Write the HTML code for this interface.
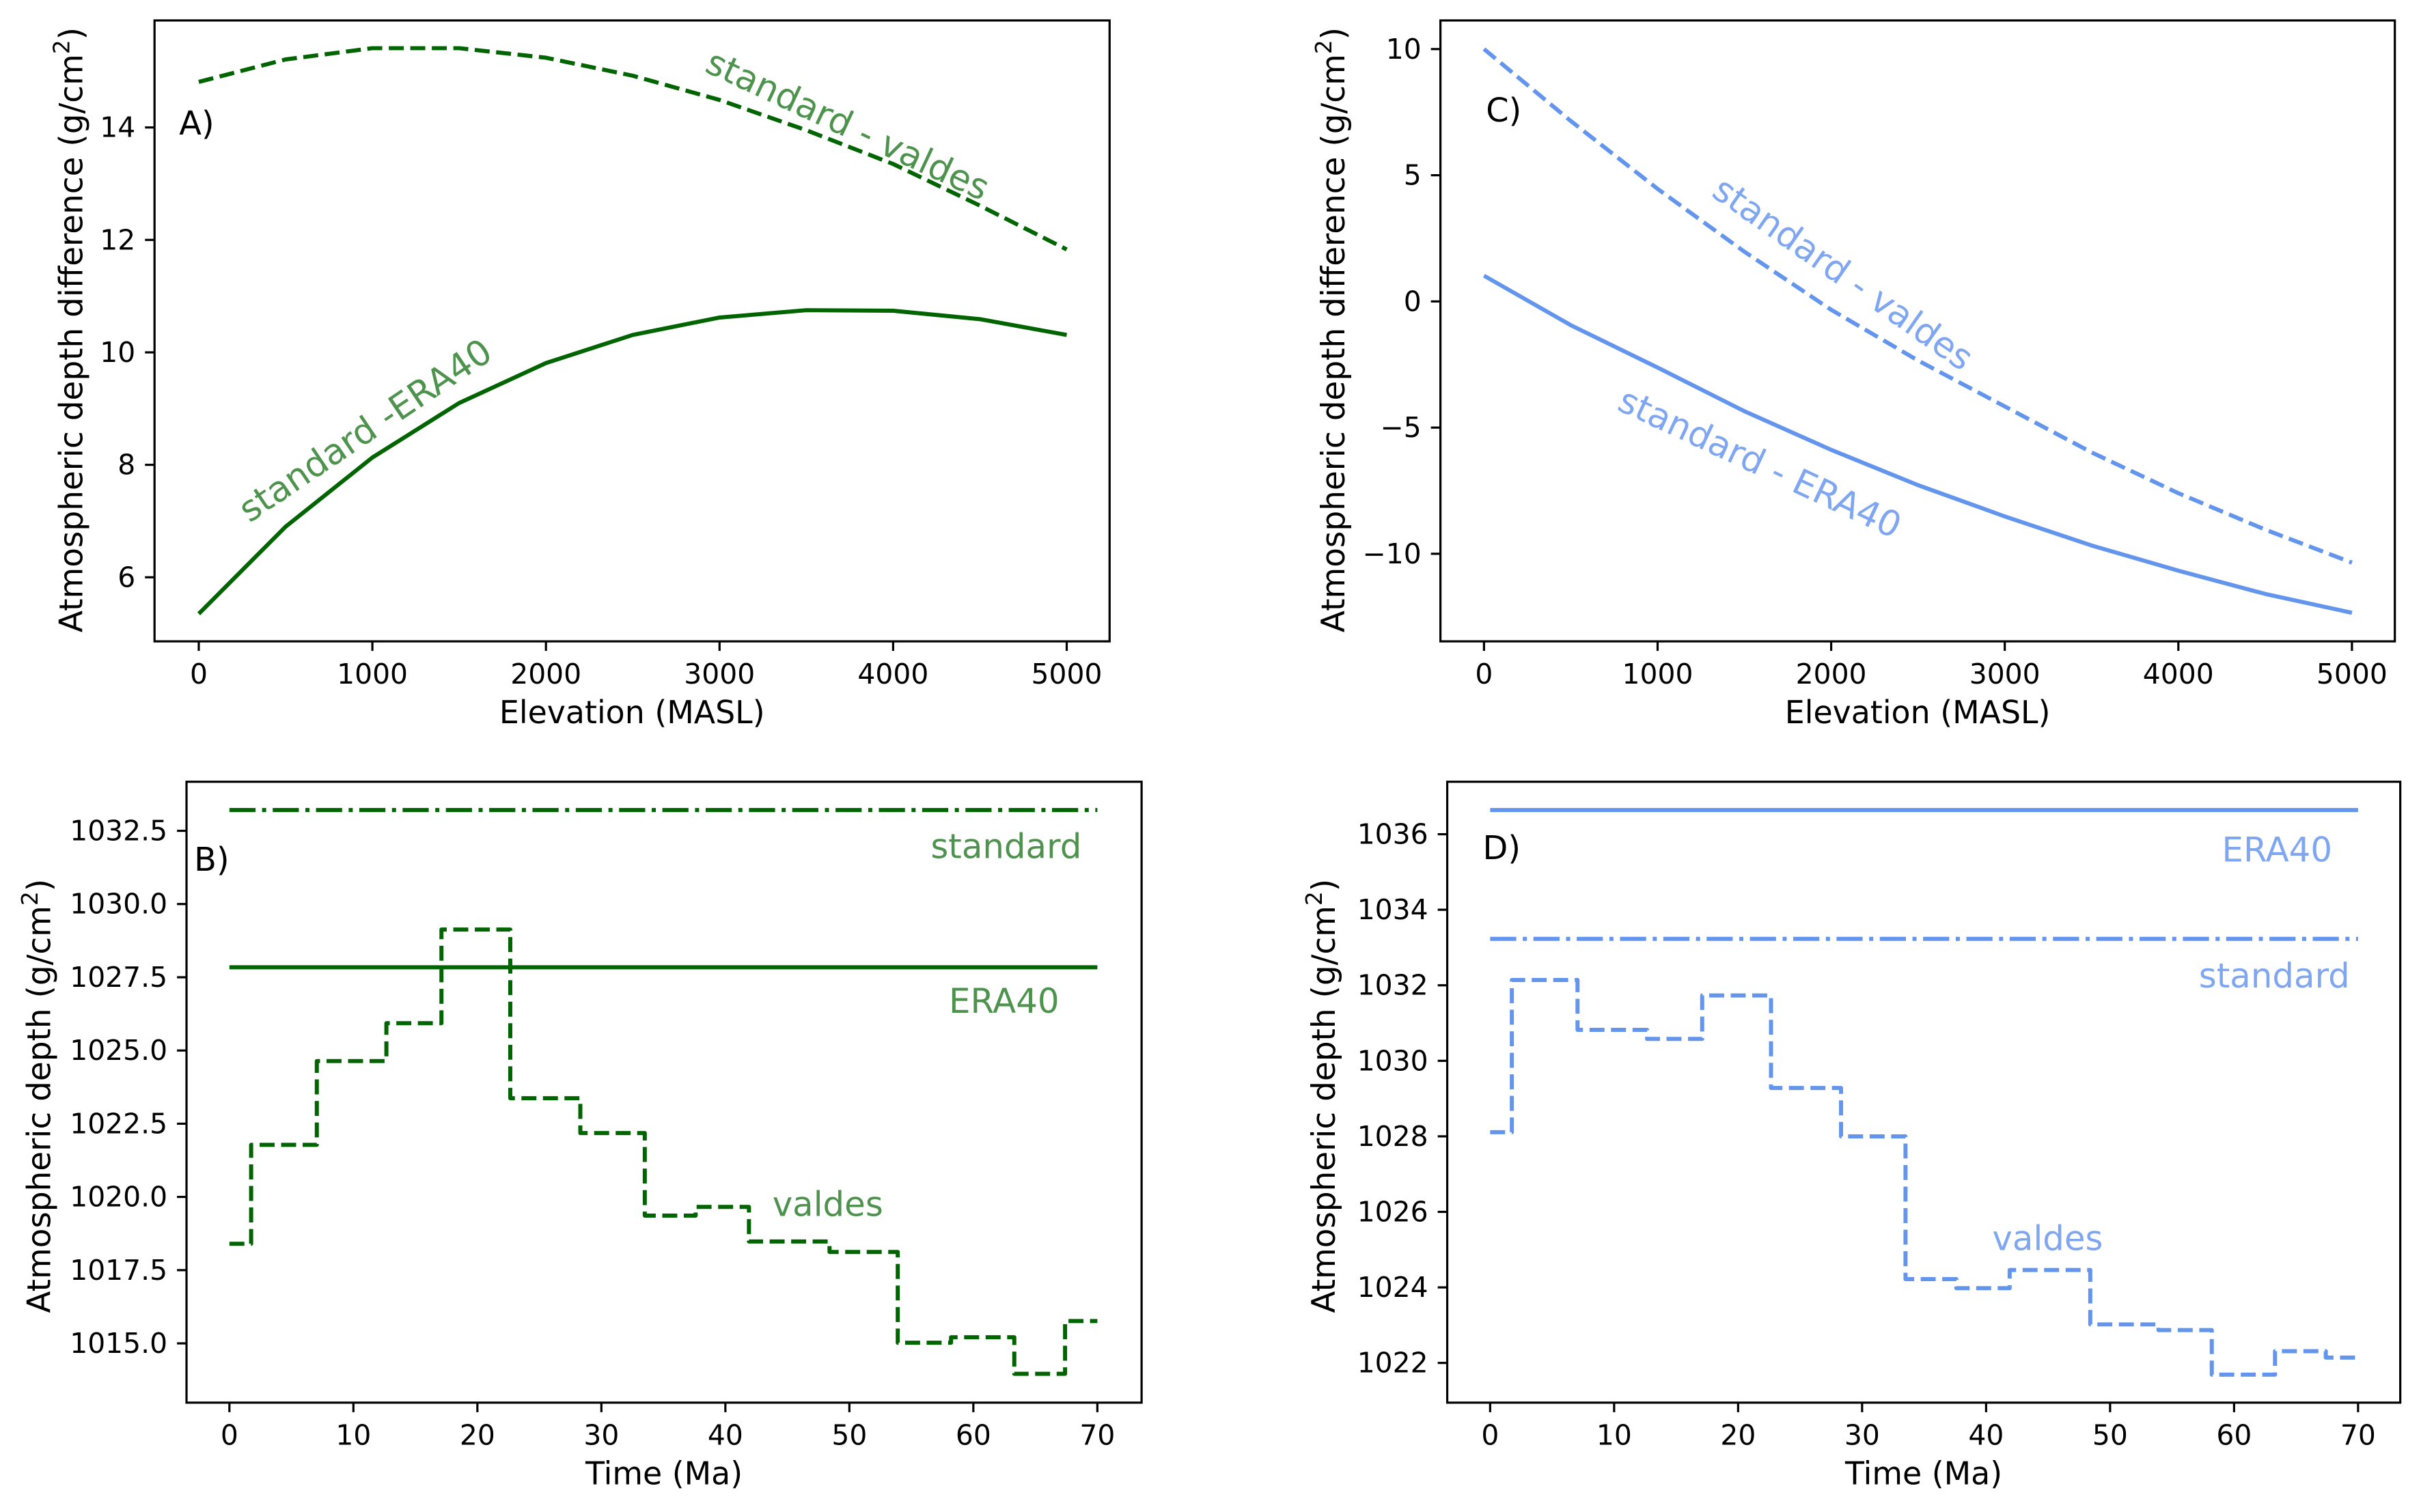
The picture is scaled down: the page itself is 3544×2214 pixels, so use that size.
<!DOCTYPE html>
<html><head><meta charset="utf-8"><style>
html,body{margin:0;padding:0;background:#fff;}
svg{display:block;font-family:"DejaVu Sans","Liberation Sans",sans-serif;}
</style></head><body>
<svg id="fig" width="3544" height="2214" viewBox="0 0 3544 2214" xmlns="http://www.w3.org/2000/svg"><g id="root" transform="scale(0.9965,0.998)"></g></svg>
<script>
// ---- data ----
const elevations = [0,500,1000,1500,2000,2500,3000,3500,4000,4500,5000];
const aEra40 = [5.35,6.9,8.13,9.1,9.81,10.31,10.62,10.75,10.74,10.59,10.31];
const aValdes = [14.81,15.21,15.41,15.41,15.24,14.92,14.49,13.95,13.35,12.61,11.83];
const cValdes = [10.0,7.15,4.46,1.97,-0.33,-2.34,-4.16,-5.98,-7.6,-9.04,-10.35];
const cEra40 = [1.02,-0.94,-2.62,-4.35,-5.88,-7.28,-8.52,-9.67,-10.67,-11.59,-12.34];
const stepEdges = [0,1.75,7.05,12.66,17.1,22.65,28.3,33.5,37.6,41.9,48.4,53.9,58.2,63.3,67.4,70];
const bValdes = [1018.4,1021.78,1024.64,1025.93,1029.13,1023.37,1022.18,1019.36,1019.66,1018.48,1018.12,1015.02,1015.21,1013.96,1015.76];
const dValdes = [1028.11,1032.14,1030.82,1030.58,1031.73,1029.28,1028.0,1024.22,1023.98,1024.46,1023.02,1022.87,1021.69,1022.31,1022.14];
const bStandard = 1033.21, bEra40 = 1027.84;
const dStandard = 1033.23, dEra40 = 1036.64;
const elevTicks = [0,1000,2000,3000,4000,5000];
const timeTicks = [0,10,20,30,40,50,60,70];
const aYTicks = [6,8,10,12,14];
const bYTicks = [1015,1017.5,1020,1022.5,1025,1027.5,1030,1032.5];
const cYTicks = [-10,-5,0,5,10];
const dYTicks = [1022,1024,1026,1028,1030,1032,1034,1036];

const NS="http://www.w3.org/2000/svg";
const svg=document.getElementById('root');
function mk(tag,attrs,parent){const e=document.createElementNS(NS,tag);for(const k in attrs)e.setAttribute(k,attrs[k]);(parent||svg).appendChild(e);return e;}
function lin(d0,d1,r0,r1){return v=>r0+(v-d0)*(r1-r0)/(d1-d0);}

const GREEN="#006400", GTXT="#4d934d", BLUE="#6495ED", BTXT="#7fa6f0";
const LW=6, DASH="22 9.6", DASHDOT="38.4 9.6 6 9.6";

function axes(p){
  const g=mk('g',{});
  
  
  const xs=lin(p.xd[0],p.xd[1],p.xr[0],p.xr[1]);
  const ys=lin(p.yd[0],p.yd[1],p.yr[0],p.yr[1]);
  p.xs=xs;p.ys=ys;p.g=g;
  p.xticks.forEach(t=>{
    const x=xs(t);
    const l=mk('line',{x1:x,x2:x,y1:p.box[3],y2:p.box[3]+14,stroke:'#000','stroke-width':3.2},g);
    
    
    const tx=mk('text',{x:x,y:p.box[3]+62,'font-size':41,'text-anchor':'middle',fill:'#000'},g);
    
    
    tx.textContent=String(t);
  });
  p.yticks.forEach(t=>{
    const y=ys(t);
    const l=mk('line',{x1:p.box[0]-14,x2:p.box[0],y1:y,y2:y,stroke:'#000','stroke-width':3.2},g);
    
    
    const tx=mk('text',{x:p.box[0]-28,y:y+14,'font-size':41,'text-anchor':'end',fill:'#000'},g);
    
    
    tx.textContent=p.yfmt?p.yfmt(t):String(t).replace('-','\u2212');
  });
  const xt=mk('text',{x:(p.box[0]+p.box[2])/2,y:p.box[3]+120,'font-size':46,'text-anchor':'middle',fill:'#000'},g);
  
  
  xt.textContent=p.xlabel;
  const yt=mk('text',{x:0,y:0,'font-size':47,'text-anchor':'middle',fill:'#000',transform:`translate(${p.ylx},${p.yly}) rotate(-90)`},g);
  
  
  yt.appendChild(document.createTextNode(p.ylabel+' (g/cm'));
  const sup=mk('tspan',{'font-size':33,dy:-19},yt);sup.textContent='2';
  const cl=mk('tspan',{'font-size':47,dy:19},yt);cl.textContent=')';
  return p;
}
function frame(p){
  const r=mk('rect',{x:p.box[0],y:p.box[1],width:p.box[2]-p.box[0],height:p.box[3]-p.box[1],fill:'none',stroke:'#000','stroke-width':3.2},p.g);
  
  
}
function line(p,xsArr,ysArr,color,dash,name){
  const pts=xsArr.map((x,i)=>p.xs(x).toFixed(1)+','+p.ys(ysArr[i]).toFixed(1)).join(' ');
  const a={points:pts,fill:'none',stroke:color,'stroke-width':LW,'stroke-linejoin':'round'};
  if(dash)a['stroke-dasharray']=dash;
  const e=mk('polyline',a,p.g);
  
  
}
function steps(edges,vals){const xs=[],ys=[];vals.forEach((v,i)=>{xs.push(edges[i],edges[i+1]);ys.push(v,v);});return [xs,ys];}
function label(p,x,y,txt,color,size,rot,anchor,name){
  const e=mk('text',{x:0,y:0,'font-size':size,fill:color,'text-anchor':anchor||'middle','dominant-baseline':'central',transform:`translate(${x},${y}) rotate(${rot||0})`},p.g);
  
  
  e.textContent=txt;
}

// Panel A
const A=axes({name:'panel-a',box:[227,30,1630,941],xd:[0,5000],xr:[292,1567],yd:[6,14],yr:[847,187],xticks:elevTicks,yticks:aYTicks,xlabel:'Elevation (MASL)',ylabel:'Atmospheric depth difference',ylx:121,yly:484});
line(A,elevations,aEra40,GREEN,null,'line-standard-minus-era40');
line(A,elevations,aValdes,GREEN,DASH,'line-standard-minus-valdes');
label(A,289,182,'A)','#000',48,0,'middle','panel-label-a');
label(A,1245,184,'standard - valdes',GTXT,52,25,'middle','annotation-standard-valdes');
label(A,537,632,'standard -ERA40',GTXT,52,-34,'middle','annotation-standard-era40');
frame(A);

// Panel B
const B=axes({name:'panel-b',box:[274,1147,1677,2058],xd:[0,70],xr:[337,1612],yd:[1015,1032.5],yr:[1971,1219],xticks:timeTicks,yticks:bYTicks,xlabel:'Time (Ma)',ylabel:'Atmospheric depth',ylx:74,yly:1608,yfmt:v=>v.toFixed(1)});
line(B,[0,70],[bStandard,bStandard],GREEN,DASHDOT,'line-standard');
line(B,[0,70],[bEra40,bEra40],GREEN,null,'line-era40');
const bs=steps(stepEdges,bValdes);line(B,bs[0],bs[1],GREEN,DASH,'line-valdes');
label(B,311,1262,'B)','#000',48,0,'middle','panel-label-b');
label(B,1478,1242,'standard',GTXT,50,0,'middle','annotation-standard');
label(B,1475,1469,'ERA40',GTXT,50,0,'middle','annotation-era40');
label(B,1216,1767,'valdes',GTXT,50,0,'middle','annotation-valdes');
frame(B);

// Panel C
const C=axes({name:'panel-c',box:[2116,30,3518,941],xd:[0,5000],xr:[2180,3455],yd:[-10,10],yr:[812.5,72],xticks:elevTicks,yticks:cYTicks,xlabel:'Elevation (MASL)',ylabel:'Atmospheric depth difference',ylx:1975,yly:484});
line(C,elevations,cEra40,BLUE,null,'line-standard-minus-era40');
line(C,elevations,cValdes,BLUE,DASH,'line-standard-minus-valdes');
label(C,2209,163,'C)','#000',48,0,'middle','panel-label-c');
label(C,2707,402,'standard - valdes',BTXT,52,35,'middle','annotation-standard-valdes');
label(C,2585,680,'standard - ERA40',BTXT,52,25,'middle','annotation-standard-era40');
frame(C);

// Panel D
const D=axes({name:'panel-d',box:[2126,1147,3526,2058],xd:[0,70],xr:[2189,3464],yd:[1022,1036],yr:[1999.7,1224],xticks:timeTicks,yticks:dYTicks,xlabel:'Time (Ma)',ylabel:'Atmospheric depth',ylx:1961,yly:1608});
line(D,[0,70],[dEra40,dEra40],BLUE,null,'line-era40');
line(D,[0,70],[dStandard,dStandard],BLUE,DASHDOT,'line-standard');
const ds=steps(stepEdges,dValdes);line(D,ds[0],ds[1],BLUE,DASH,'line-valdes');
label(D,2206,1245,'D)','#000',48,0,'middle','panel-label-d');
label(D,3345,1247,'ERA40',BTXT,50,0,'middle','annotation-era40');
label(D,3341,1432,'standard',BTXT,50,0,'middle','annotation-standard');
label(D,3008,1817,'valdes',BTXT,50,0,'middle','annotation-valdes');
frame(D);
</script>
</body></html>
